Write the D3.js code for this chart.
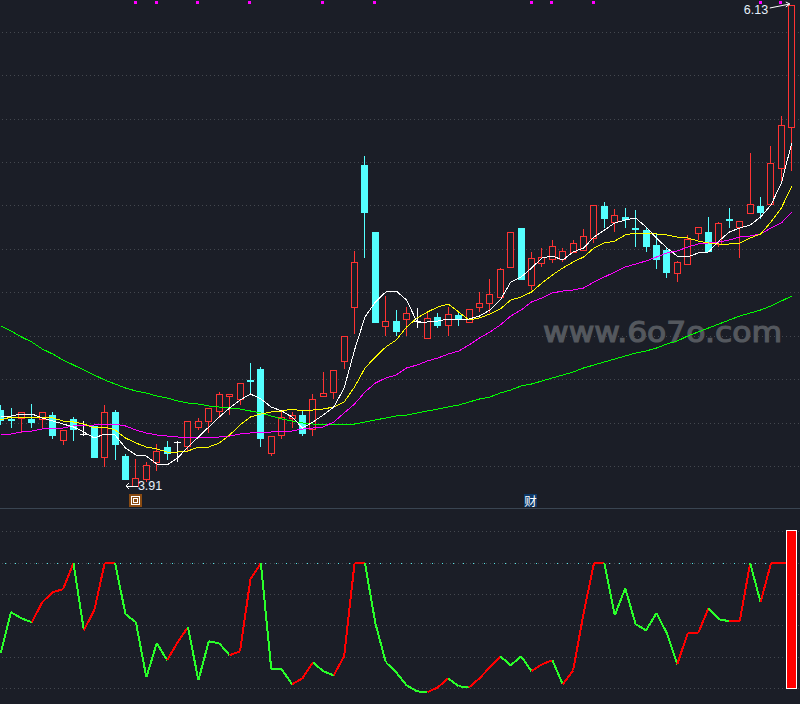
<!DOCTYPE html>
<html><head><meta charset="utf-8">
<script src="https://cdn.jsdelivr.net/npm/d3@7/dist/d3.min.js"></script>
<style>html,body{margin:0;padding:0;background:#1b1e27;overflow:hidden}svg{display:block}</style>
</head><body><div id="chart"></div>
<script>
// Prices are expressed as index points above the period low (3.91 = 0, 6.13 = 481)
const open=[76,67,68,67,67,71,46,67,52,60,29,74,30,0,7,23,39,44,40,59,65,74,89,86,106,117,33,51,68,71,57,90,93,125,178,321,254,160,165,167,165,147,169,160,171,163,178,182,189,219,258,201,223,226,226,234,236,247,280,264,269,258,256,241,236,212,222,252,254,242,267,259,273,280,282,317,359];
const close=[65,65,74,63,74,50,56,56,52,28,74,41,6,8,21,34,32,44,65,65,78,91,91,102,104,47,50,69,71,52,87,93,115,150,223,273,163,165,154,173,165,167,160,171,167,176,182,191,217,254,206,228,229,239,234,243,250,280,267,271,266,256,239,226,213,223,247,258,234,263,265,265,282,273,323,360,481];
const high=[81,78,74,82,74,74,56,69,65,60,81,76,32,27,24,42,45,45,65,68,78,94,91,103,123,119,50,74,74,76,92,114,115,150,235,330,254,190,176,179,178,173,173,179,173,176,194,207,218,254,258,234,238,246,238,246,257,280,284,277,278,276,259,253,238,225,251,258,269,264,278,265,333,289,340,370,481];
const low=[61,58,53,58,57,47,41,45,50,28,19,26,6,0,4,15,26,24,35,56,53,68,71,81,93,39,30,47,58,50,50,90,87,117,152,228,163,150,150,150,158,147,158,150,160,163,174,173,189,219,206,196,219,223,224,234,236,243,258,254,258,239,234,217,208,204,221,246,234,239,258,228,273,267,282,304,315];
const ma5=[70,70,72,72,68,65,62,59,54,48,52,51,38,31,30,22,21,28,39,49,59,69,78,86,92,87,79,75,69,58,64,71,79,98,136,169,184,194,195,186,164,164,165,167,167,167,170,176,186,204,209,218,228,230,226,234,238,249,256,263,266,268,259,248,238,230,229,233,234,245,254,258,261,269,281,303,343];
const ma10=[66,69,69,69,69,68,65,64,62,58,59,56,48,43,39,37,34,34,35,39,39,43,51,61,69,72,74,75,77,75,76,77,79,84,99,118,129,139,146,159,168,174,179,182,174,166,168,172,177,186,189,194,203,211,218,224,229,238,243,245,251,253,253,252,251,249,248,245,243,242,242,243,248,252,264,278,300];
const ma20=[52,52,54,55,57,58,58,60,61,61,62,62,60,56,53,51,50,49,49,49,49,49,50,52,53,54,54,55,55,57,58,59,64,73,82,94,103,108,111,118,121,125,128,132,135,141,148,154,161,170,176,184,188,193,195,196,198,204,209,214,219,222,225,229,233,235,239,242,243,244,246,249,250,252,258,263,274];
const ma60=[160,155,149,144,137,132,126,121,116,111,106,102,98,95,93,90,88,85,83,82,80,79,78,77,75,73,70,67,65,63,62,62,62,62,62,64,66,68,70,71,73,75,77,79,81,84,87,89,93,96,100,102,105,108,111,114,118,121,124,127,130,133,135,138,142,145,150,154,158,162,166,170,173,176,180,185,190];
const priceGrid=[19.6,63,106.4,149.8,193.2,236.6,280,323.4,366.8,410.2,453.6];
const signalDays=[13,15,19,24,31,36,51,53,57,73,75];
const lowLabel="3.91", highLabel="6.13", lowDay=13, highDay=76;
const markDay=13, caiDay=51, caiText="财";
const watermark="www.6o7o.com";
// Lower oscillator
const osc=[28,60.8,56,52.8,68.8,76.8,79.2,100,46.4,62.4,100,100,59.2,52.8,8.8,36,22.4,36.8,48.8,6.4,37.6,36,26.4,29.6,87.2,100,15.2,15.2,3.2,8,20.8,13.6,10.4,25.6,100,100,52,20.8,12.8,2.4,-2.4,-3.2,0.8,8,1.6,0.8,8,16.8,25.6,18.4,25.6,13.6,19.2,22.4,3.2,14.4,60,100,100,58.4,80,51.2,46.4,60,44,19.2,44,44,64,55.2,53.6,53.6,100,68.8,100,100,100];
const oscRise=[0,0,0,1,1,1,1,0,1,1,1,0,0,0,0,0,1,1,0,0,0,0,1,1,1,0,0,0,1,1,0,0,1,1,1,0,0,0,0,0,0,1,1,0,0,1,1,1,0,0,0,1,1,0,1,1,1,1,0,0,0,0,0,0,0,1,1,1,0,0,1,1,0,1,1,1];
const oscGrid=[0,25,50,75,125];
const oscLevel=100, oscBar=125.8;

const W=800,H=704,BG="#1b1e27";
const svg=d3.select("#chart").append("svg").attr("width",W).attr("height",H);
svg.append("rect").attr("width",W).attr("height",H).attr("fill",BG);
const days=d3.range(open.length);
const x=d3.scaleLinear().domain([0,76]).range([0.6,791.8]);
const y=d3.scaleLinear().domain([0,481]).range([486,5]);
const yo=d3.scaleLinear().domain([0,100]).range([688.3,563.2]);
const snap=v=>Math.round(v-0.5)+0.5;

// grids
const gridG=svg.append("g").attr("shape-rendering","crispEdges");
gridG.selectAll("line.p").data(priceGrid).join("line").attr("class","p")
 .attr("x1",2).attr("x2",W).attr("y1",d=>snap(y(d))).attr("y2",d=>snap(y(d)))
 .attr("stroke","#44484f").attr("stroke-dasharray","1,3");
gridG.selectAll("line.o").data(oscGrid).join("line").attr("class","o")
 .attr("x1",2).attr("x2",W).attr("y1",d=>snap(yo(d))).attr("y2",d=>snap(yo(d)))
 .attr("stroke","#44484f").attr("stroke-dasharray","1,3");
gridG.append("line").attr("x1",2).attr("x2",W).attr("y1",snap(yo(oscLevel))).attr("y2",snap(yo(oscLevel)))
 .attr("stroke","#44484f").attr("stroke-dasharray","1,3");
gridG.append("line").attr("x1",5).attr("x2",W).attr("y1",snap(yo(oscLevel))).attr("y2",snap(yo(oscLevel)))
 .attr("stroke","#55e6e6").attr("stroke-dasharray","1,9.41");
gridG.append("line").attr("x1",0).attr("x2",W).attr("y1",508.5).attr("y2",508.5).attr("stroke","#3a4552");

// watermark
svg.append("text").attr("x",543).attr("y",342).attr("textLength",239).attr("lengthAdjust","spacingAndGlyphs")
 .attr("font-family","DejaVu Sans").attr("font-size",29)
 .attr("fill","#54585e").attr("stroke","#54585e").attr("stroke-width",1.2).text(watermark);

// candles
const cG=svg.append("g").attr("shape-rendering","crispEdges");
const kind=i=>open[i]===close[i]?"cross":(close[i]>open[i]?"up":"down");
const colr={up:"#ff3333",down:"#54ffff",cross:"#ffffff"};
const candle=cG.selectAll("g").data(days).join("g");
candle.append("line").attr("x1",i=>snap(x(i))).attr("x2",i=>snap(x(i)))
 .attr("y1",i=>y(high[i])).attr("y2",i=>y(low[i])).attr("stroke",i=>colr[kind(i)]);
candle.filter(i=>kind(i)==="up").append("rect")
 .attr("x",i=>snap(x(i))-3).attr("width",6)
 .attr("y",i=>snap(y(close[i]))).attr("height",i=>Math.max(1,Math.round(y(open[i])-y(close[i]))))
 .attr("fill",BG).attr("stroke",colr.up);
candle.filter(i=>kind(i)==="down").append("rect")
 .attr("x",i=>snap(x(i))-3.5).attr("width",7)
 .attr("y",i=>y(open[i])).attr("height",i=>y(close[i])-y(open[i]))
 .attr("fill",colr.down);
candle.filter(i=>kind(i)==="cross").append("line")
 .attr("x1",i=>snap(x(i))-3.5).attr("x2",i=>snap(x(i))+3.5)
 .attr("y1",i=>snap(y(open[i]))).attr("y2",i=>snap(y(open[i]))).attr("stroke",colr.cross);

// moving averages
const lineP=d3.line().x((d,i)=>x(i)).y(d=>y(d));
[[ma60,"#00ff00"],[ma20,"#ff00ff"],[ma10,"#ffff00"],[ma5,"#ffffff"]].forEach(([s,c])=>{
 svg.append("path").attr("d",lineP(s)).attr("fill","none").attr("stroke",c).attr("stroke-width",1).attr("shape-rendering","crispEdges");
});

// signal dots
svg.append("g").selectAll("rect").data(signalDays).join("rect")
 .attr("x",i=>Math.round(x(i))-2).attr("y",1).attr("width",3).attr("height",3).attr("fill","#ff00ff").attr("shape-rendering","crispEdges");

// low / high labels
const lx=x(lowDay), ly=y(0);
svg.append("path").attr("d",`M${lx+2},${ly}H${lx-10}M${lx-7},${ly-3}L${lx-10},${ly}L${lx-7},${ly+3}`)
 .attr("fill","none").attr("stroke","#fff").attr("shape-rendering","crispEdges");
svg.append("text").attr("x",lx+2).attr("y",ly+4).attr("font-family","Liberation Sans").attr("font-size",12.5).attr("fill","#e6f0fa").text(lowLabel);
const hx=x(highDay), hy=y(481);
svg.append("path").attr("d",`M${hx-22},${hy+3}L${hx-2},${hy-1}M${hx-6},${hy-3}L${hx-2},${hy-1}L${hx-6},${hy+2}`)
 .attr("fill","none").attr("stroke","#fff");
svg.append("text").attr("x",hx-48).attr("y",hy+8.5).attr("font-family","Liberation Sans").attr("font-size",12.5).attr("fill","#e6f0fa").text(highLabel);

// event markers
const mx=Math.round(x(markDay))-1;
const mk=svg.append("g").attr("shape-rendering","crispEdges");
mk.append("rect").attr("x",mx-6).attr("y",494).attr("width",13).attr("height",13).attr("fill","#8a4b12");
mk.append("rect").attr("x",mx-3.5).attr("y",496.5).attr("width",8).attr("height",8).attr("fill","none").attr("stroke","#fff");
mk.append("rect").attr("x",mx-1.5).attr("y",498.5).attr("width",4).attr("height",4).attr("fill","none").attr("stroke","#fff");
const cx=Math.round(x(caiDay))-1;
svg.append("rect").attr("x",cx-7).attr("y",494).attr("width",13).attr("height",13).attr("fill","#0c3868").attr("shape-rendering","crispEdges");
svg.append("text").attr("x",cx-0.5).attr("y",505.5).attr("text-anchor","middle").attr("font-family","Noto Sans CJK SC").attr("font-size",12.5).attr("fill","#fff").text(caiText);

// oscillator
const og=svg.append("g").attr("fill","none").attr("stroke-width",2).attr("shape-rendering","crispEdges");
og.selectAll("line").data(oscRise).join("line")
 .attr("x1",(d,i)=>x(i)).attr("y1",(d,i)=>yo(osc[i])).attr("x2",(d,i)=>x(i+1)).attr("y2",(d,i)=>yo(osc[i+1]))
 .attr("stroke",d=>d?"#ff0000":"#2aff2a");
svg.append("rect").attr("x",786.5).attr("width",10).attr("y",yo(oscBar)).attr("height",yo(0)-yo(oscBar))
 .attr("fill","#ff0000").attr("stroke","#fff").attr("shape-rendering","crispEdges");
</script></body></html>
